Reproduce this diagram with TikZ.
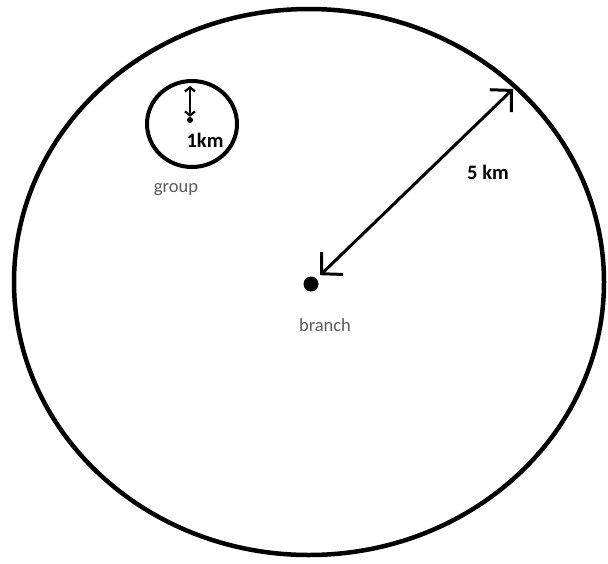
\documentclass[tikz,border=0pt]{standalone}
\usepackage{fontspec}
\setmainfont{Carlito}
\usetikzlibrary{arrows.meta}
\definecolor{etiq}{HTML}{5A5A5A}
\tikzset{
    rotulo/.style={text=etiq, font=\fontsize{18.5}{22}\selectfont},
    medida/.style={font=\fontsize{20.5}{24}\selectfont\bfseries},
    punto/.style={circle, fill, inner sep=0pt, minimum size=#1}
}
\begin{document}
\begin{tikzpicture}[x=1pt, y=-1pt]
    \useasboundingbox (0,0) rectangle (608,563);
    % Circulos
    \draw[line width=4.5pt] (309,282) ellipse [x radius=295, y radius=273];
    \draw[line width=4pt] (192,124) ellipse [x radius=45, y radius=43];
    % Centro
    \node[punto=15pt] (branch) at (311,284) {};
    \node[rotulo] (branchlbl) at (325,325) {branch};
    \coordinate (rim) at (513,89);
    \draw[line width=3pt, {Straight Barb[length=15pt,width=31pt]}-{Straight Barb[length=15pt,width=31pt]}, shorten <=5pt]
        (branch) -- (rim);
    \node[medida] (radio) at (488,172) {5 km};
    % Grupo
    \node[punto=6pt] (gdot) at (190,120) {};
    \coordinate (gtop) at (190,86);
    \draw[line width=2.2pt, {Straight Barb[length=4pt,width=10pt]}-{Straight Barb[length=4pt,width=10pt]}]
        (gtop) -- (gdot.north);
    \node[medida] (gradio) at (205,140) {1km};
    \node[rotulo] (group) at (176,190) {group};
\end{tikzpicture}
\end{document}
